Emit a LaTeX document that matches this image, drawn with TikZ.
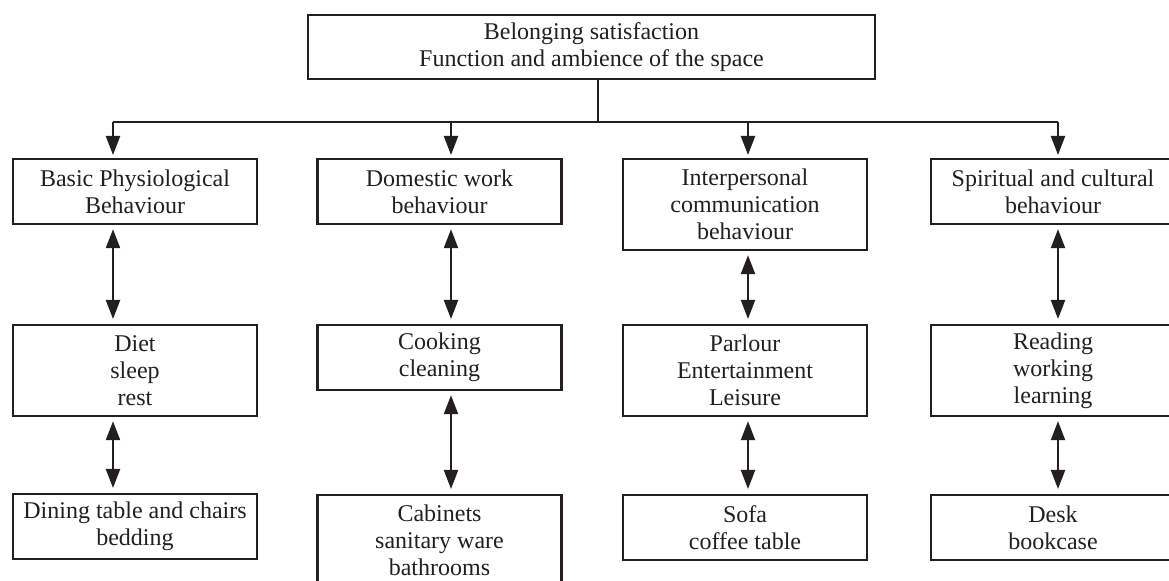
\documentclass[tikz,border=0pt]{standalone}
\usepackage{fontspec}
\setmainfont{Liberation Serif}
\usetikzlibrary{arrows.meta,positioning}
\definecolor{ink}{HTML}{231F20}
\tikzset{
    entry/.style={draw=ink, line width=1.1pt, text=ink, align=center,
      minimum width=122pt, minimum height=32.5pt, inner sep=0pt,
      font=\fontsize{12}{13.5}\selectfont, anchor=north},
    tall/.style={minimum height=45.5pt},
    link/.style={draw=ink, line width=1.1pt},
    tip/.style={-{Triangle[length=9.5pt,width=7pt]}, shorten >=1.5pt},
    both/.style={{Triangle[length=9.5pt,width=7pt]}-{Triangle[length=9.5pt,width=7pt]},
      shorten <=2pt, shorten >=2.5pt},
  }

\begin{document}
\begin{tikzpicture}[x=0.5pt, y=-0.5pt]
    \useasboundingbox (0,0) rectangle (1169,581);

    \node[entry, minimum width=283.5pt, minimum height=32pt] (bel) at (591.5,14)
      {Belonging satisfaction\\Function and ambience of the space};

    %% behaviours
    \node[entry] (bp) at (135,158) {Basic Physiological\\Behaviour};
    \node[entry] (dw) at (439.5,158) {Domestic work\\behaviour};
    \node[entry, tall] (ic) at (745,158) {Interpersonal\\communication\\behaviour};
    \node[entry] (sc) at (1053,158) {Spiritual and cultural\\behaviour};

    %% activities
    \node[entry, tall] (dsr) at (135,324) {Diet\\sleep\\rest};
    \node[entry] (cc) at (439.5,324) {Cooking\\cleaning};
    \node[entry, tall] (pel) at (745,324) {Parlour\\Entertainment\\Leisure};
    \node[entry, tall] (rwl) at (1053,324) {Reading\\working\\learning};

    %% furniture
    \node[entry] (dtc) at (135,493) {Dining table and chairs\\bedding};
    \node[entry, tall] (csb) at (439.5,494) {Cabinets\\sanitary ware\\bathrooms};
    \node[entry] (sct) at (745,494) {Sofa\\coffee table};
    \node[entry] (dbc) at (1053,494) {Desk\\bookcase};

    %% bus below the top box
    \coordinate (hub) at (598,122);
    \coordinate (j1) at (113,122);
    \coordinate (j2) at (451,122);
    \coordinate (j3) at (748,122);
    \coordinate (j4) at (1058,122);
    \draw[link] (hub |- bel.south) -- (hub);
    \draw[link] (j1) -- (j4);

    \draw[link, tip] (j1) -- (j1 |- bp.north);
    \draw[link, tip] (j2) -- (j2 |- dw.north);
    \draw[link, tip] (j3) -- (j3 |- ic.north);
    \draw[link, tip] (j4) -- (j4 |- sc.north);

    \draw[link, both] (j1 |- bp.south) -- (j1 |- dsr.north);
    \draw[link, both] (j2 |- dw.south) -- (j2 |- cc.north);
    \draw[link, both] (j3 |- ic.south) -- (j3 |- pel.north);
    \draw[link, both] (j4 |- sc.south) -- (j4 |- rwl.north);

    \draw[link, both] (j1 |- dsr.south) -- (j1 |- dtc.north);
    \draw[link, both] (j2 |- cc.south) -- (j2 |- csb.north);
    \draw[link, both] (j3 |- pel.south) -- (j3 |- sct.north);
    \draw[link, both] (j4 |- rwl.south) -- (j4 |- dbc.north);
  \end{tikzpicture}
\end{document}
